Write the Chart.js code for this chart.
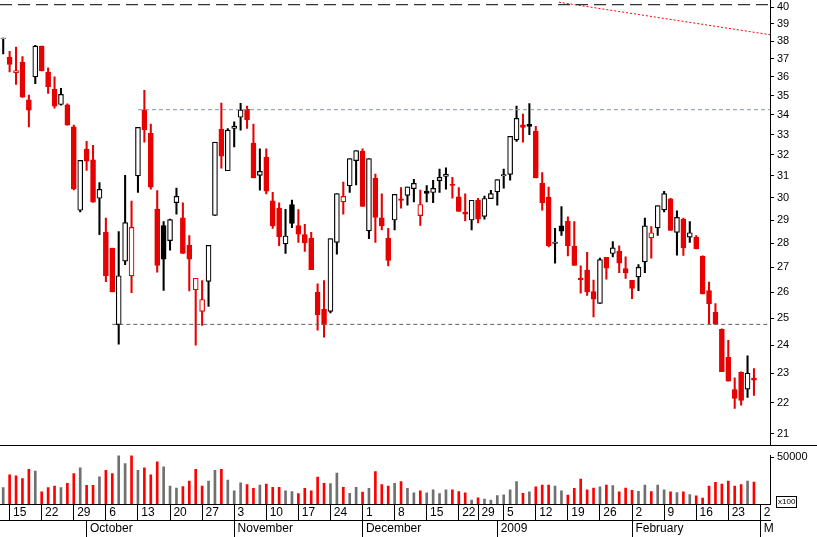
<!DOCTYPE html>
<html><head><meta charset="utf-8">
<script src="https://cdn.jsdelivr.net/npm/chart.js@4/dist/chart.umd.min.js"></script>
<style>
html,body{margin:0;padding:0;background:#fff;overflow:hidden}
#a{position:absolute;left:0;top:-9px;width:817px;height:465px}
#b{position:absolute;left:0;top:445px;width:817px;height:92px;border-top:1px solid #000;box-sizing:border-box;background:#fff}
</style></head><body>
<div id="a"><canvas id="c1"></canvas></div>
<div id="b"><canvas id="c2"></canvas></div>
<script>
// Trading days: from 2008-09-12, weekdays, minus exchange holidays, plus two empty March slots
const startDate = '2008-09-12';
const holidays = ['2008-12-25','2008-12-26','2009-01-01'];
const dayCount = 120;
const monthNames = ['January','February','March','April','May','June','July','August','September','October','November','December'];

const O=[38.15,37.08,36.23,36.81,34.76,36.0,37.71,36.25,35.34,34.53,34.5,33.37,29.43,32.27,31.75,29.97,28.46,27.78,24.76,27.25,26.65,31.0,34.24,33.06,29.47,28.75,28.11,29.77,29.09,27.9,26.1,25.26,26.43,29.2,33.26,31.24,33.3,33.87,34.27,32.57,31.02,31.88,29.84,29.52,27.97,29.68,28.75,28.36,28.2,25.99,25.33,25.26,28.04,29.81,30.54,31.72,32.17,28.53,30.88,29.09,28.2,29.0,29.93,30.1,30.41,29.19,30.29,30.23,30.78,30.97,30.6,30.02,29.34,29.0,29.88,29.16,29.95,30.26,31.0,31.07,32.73,33.47,33.5,33.16,30.66,30.01,27.99,28.74,28.93,27.86,26.56,26.88,26.02,25.57,27.4,27.57,27.65,26.94,26.46,26.61,27.22,28.23,28.66,29.45,29.93,28.46,29.02,28.26,28.24,27.45,26.06,25.22,24.58,23.56,22.44,23.03,22.46,22.83];
const H=[38.18,37.42,37.66,37.12,35.02,37.76,37.72,36.5,36.0,35.39,34.57,33.47,31.73,32.66,32.47,30.69,29.09,27.8,28.5,31.03,29.84,33.35,35.28,33.52,30.32,28.93,29.04,30.43,29.76,28.33,26.55,26.46,27.9,32.61,34.6,33.3,33.64,34.59,34.45,33.52,32.29,32.29,30.24,29.76,29.47,29.89,29.46,28.81,28.47,26.34,26.46,28.19,30.17,30.71,31.81,32.2,32.29,31.81,31.08,30.17,28.64,30.14,30.46,30.48,30.84,30.34,30.55,30.79,31.32,31.38,30.93,30.46,30.17,29.87,29.97,30.07,30.33,30.82,31.32,32.9,34.45,34.04,34.58,33.41,31.16,30.48,28.64,29.6,29.14,28.93,27.06,27.62,26.48,27.38,27.4,28.07,27.89,27.43,26.46,27.11,29.09,28.71,29.63,30.28,29.97,29.41,29.09,28.93,28.33,27.47,26.41,25.56,24.6,24.18,22.85,23.06,23.62,23.17];
const L=[37.27,36.27,35.59,34.9,33.38,35.64,36.33,35.12,34.34,34.5,33.47,30.35,29.36,31.26,29.79,28.37,26.42,26.02,24.04,27.11,25.99,30.24,32.62,30.38,26.8,26.07,27.71,29.26,27.57,26.05,24.0,24.73,25.45,29.2,31.36,31.24,32.39,33.22,33.3,30.9,30.34,30.17,28.64,27.9,27.57,28.67,28.04,27.66,26.9,24.55,24.3,25.2,27.54,29.26,30.23,30.58,29.6,28.19,28.04,28.57,27.06,28.57,29.53,29.66,29.81,28.76,29.81,29.77,30.23,30.38,29.97,29.38,28.96,28.57,28.87,29.04,29.95,29.66,30.43,30.8,32.66,32.62,32.99,30.9,29.43,27.85,27.17,28.33,27.47,27.08,25.97,25.88,25.05,25.57,26.52,27.43,26.78,26.55,25.75,26.06,26.78,27.38,28.33,29.36,28.55,27.5,27.49,28.04,27.76,25.94,24.8,24.78,23.06,22.73,21.82,21.92,22.18,22.25];
const C=[38.16,36.68,36.34,34.92,34.24,37.71,36.33,35.48,34.45,35.05,33.47,30.4,31.73,31.7,29.79,30.37,26.66,26.02,26.65,28.88,28.67,33.35,33.24,30.48,27.08,27.33,29.01,30.05,27.57,27.33,26.55,25.71,27.9,32.61,31.94,33.21,33.41,34.24,33.75,30.9,31.2,30.29,28.74,28.28,28.3,28.85,28.39,28.01,26.9,25.13,24.76,28.19,30.17,30.05,31.81,32.2,29.6,31.81,29.11,28.74,27.28,30.14,29.87,30.48,30.64,29.68,30.19,30.41,30.92,31.07,30.56,29.38,29.26,29.87,29.04,29.95,30.17,30.82,31.05,32.9,33.81,33.35,33.4,30.9,29.77,27.9,28.04,28.52,27.9,27.08,26.49,26.02,25.73,27.31,26.97,27.8,27.17,26.77,26.15,26.99,28.74,28.44,29.63,30.17,28.55,29.11,27.8,28.44,27.76,25.94,25.56,24.78,23.06,22.73,22.15,22.08,23.0,22.77];
const VOL=[17500,31000,30000,27000,37000,35000,13000,17500,19000,17500,22000,32500,38500,20000,20000,29000,36000,32500,52000,43000,57000,36000,38500,31000,45000,39500,19000,17000,18500,24500,37000,19000,24500,36000,37000,25500,14000,22500,20600,16800,20300,21300,17800,17800,14000,13300,11200,16800,14000,28700,22000,21700,32900,17800,11500,17800,12600,16800,34600,20600,19200,22000,23800,16800,11900,14000,11900,15000,11200,15000,15000,13300,11900,4200,6600,5200,4200,9000,9800,15000,24000,11500,13000,18200,20300,20300,19000,14000,9400,16800,26600,15000,17000,18200,20300,19600,13000,17000,14700,13600,20300,13300,20300,15000,13000,12200,13000,10100,8700,6300,19000,23000,21300,24500,19000,20600,24500,23400];
const priceTicks=[21,22,23,24,25,26,27,28,29,30,31,32,33,34,35,36,37,38,39,40];
const resistance=34.26, support=24.77, topLine=40.15;
const trendX=[86.6,119.5], trendY=[40.3,38.37];

// build dates
const days=[];{let d=new Date(startDate+'T12:00:00Z');while(days.length<dayCount){const w=d.getUTCDay();const s=d.toISOString().slice(0,10);if(w!==0&&w!==6&&!holidays.includes(s))days.push(new Date(d));d=new Date(d.getTime()+864e5);}}
const weekStarts=[],monthStarts=[];
for(let i=1;i<days.length;i++){
  const p=days[i-1],c=days[i];
  if(c.getUTCDay()<p.getUTCDay()||(c-p)>4*864e5)weekStarts.push(i);
  if(c.getUTCMonth()!==p.getUTCMonth())monthStarts.push(i);
}
const monthLabel=i=>{const d=days[i];if(d.getUTCMonth()===0)return String(d.getUTCFullYear());const n=monthNames[d.getUTCMonth()];return i>=118?n[0]:n;};

const RED='#e60000',BLK='#000000';
const col=C.map((c,i)=>i===0?BLK:(c<C[i-1]?RED:BLK));
const fill=C.map((c,i)=>c>O[i]?'#ffffff':col[i]);
const idx=C.map((_,i)=>i);
const FONT={family:'Liberation Sans, Arial, sans-serif',size:11};
const fixW=s=>{s.width=47;};

new Chart(document.getElementById('c1'),{
  data:{datasets:[
    {type:'bar',order:2,data:idx.map(i=>({x:i,y:[L[i],H[i]]})),backgroundColor:col,barThickness:1.4,grouped:false},
    {type:'bar',order:1,data:idx.map(i=>({x:i,y:[Math.min(O[i],C[i]),Math.max(O[i],C[i])+0.01]})),backgroundColor:fill,borderColor:col,borderWidth:1.2,borderSkipped:false,barThickness:5,grouped:false},
    {type:'line',order:0,data:[{x:21,y:resistance},{x:119.5,y:resistance}],borderColor:'#7f96b0',borderDash:[4,3],borderWidth:1,pointRadius:0},
    {type:'line',order:0,data:[{x:17,y:support},{x:119.5,y:support}],borderColor:'#606060',borderDash:[4,3],borderWidth:1,pointRadius:0},
    {type:'line',order:0,data:[{x:-0.5,y:topLine},{x:119.5,y:topLine}],borderColor:'#000',borderDash:[12,6],borderWidth:1,pointRadius:0},
    {type:'line',order:0,data:trendX.map((x,i)=>({x,y:trendY[i]})),borderColor:'#ff0000',borderDash:[2,2],borderWidth:1,pointRadius:0}
  ]},
  options:{responsive:true,maintainAspectRatio:false,animation:false,devicePixelRatio:1,
    layout:{padding:0},
    plugins:{legend:{display:false},tooltip:{enabled:false}},
    scales:{
      x:{type:'linear',offset:false,min:-0.5,max:119.5,display:false},
      y:{type:'logarithmic',position:'right',min:20.6,max:40.4,
        afterBuildTicks:s=>{s.ticks=priceTicks.map(v=>({value:v}));},afterFit:fixW,
        ticks:{callback:v=>String(v),color:'#000',font:FONT,padding:3},
        grid:{drawOnChartArea:false,tickLength:4,color:'#000'},border:{color:'#000'}}
    }}
});

new Chart(document.getElementById('c2'),{
  type:'bar',
  data:{datasets:[{data:idx.map(i=>({x:i,y:VOL[i]})),backgroundColor:col.map(c=>c===RED?'#ff0000':'#707070'),barThickness:2}]},
  options:{responsive:true,maintainAspectRatio:false,animation:false,devicePixelRatio:1,
    layout:{padding:0},
    plugins:{legend:{display:false},tooltip:{enabled:false}},
    scales:{
      x:{type:'linear',offset:false,min:-0.5,max:119.5,weight:0,
        afterBuildTicks:s=>{s.ticks=weekStarts.map(v=>({value:v}));},
        afterFit:s=>{s.height=16;},
        ticks:{autoSkip:false,maxRotation:0,align:'start',padding:-15,color:'#000',font:{...FONT,size:12},
          callback:v=>' '+days[v].getUTCDate()},
        grid:{drawOnChartArea:false,offset:false,tickLength:16,color:'#000'},border:{color:'#000'}},
      x2:{type:'linear',offset:false,position:'bottom',min:-0.5,max:119.5,weight:1,
        afterBuildTicks:s=>{s.ticks=monthStarts.map(v=>({value:v}));},
        afterFit:s=>{s.height=17;},
        ticks:{autoSkip:false,maxRotation:0,align:'start',padding:-16,color:'#000',font:{...FONT,size:12},
          callback:v=>' '+monthLabel(v)},
        grid:{drawOnChartArea:false,offset:false,tickLength:17,color:'#000'},border:{color:'#000'}},
      y:{position:'right',min:0,max:51600,afterFit:fixW,
        afterBuildTicks:s=>{s.ticks=[{value:50000}];},
        ticks:{color:'#000',font:FONT,padding:3,callback:v=>String(v)},
        grid:{drawOnChartArea:false,tickLength:4,color:'#000'},border:{color:'#000'}}
    }},
  plugins:[{id:'x100',afterDraw(ch){const c=ch.ctx;c.save();c.strokeStyle='#000';c.lineWidth=1;c.strokeRect(776.5,50.5,20,11);c.fillStyle='#000';c.font='8px Liberation Sans, Arial';c.textBaseline='middle';c.fillText('x100',778,56);c.restore();}}]
});
</script>
</body></html>
